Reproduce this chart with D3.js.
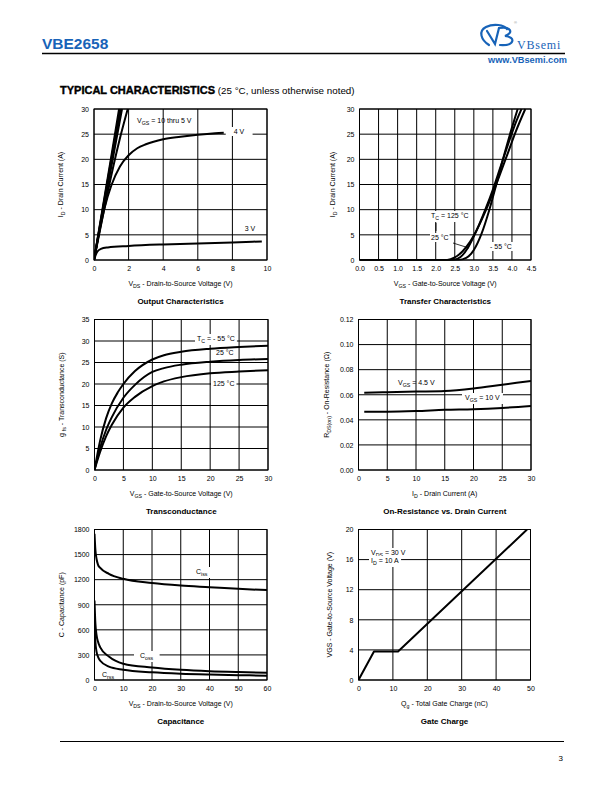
<!DOCTYPE html>
<html><head><meta charset="utf-8">
<script src="https://cdn.jsdelivr.net/npm/d3@7"></script>
<style>
html,body{margin:0;padding:0;background:#fff;}
svg{display:block;font-family:"Liberation Sans",Arial,Helvetica,sans-serif;}
</style></head>
<body>
<svg id="page" width="612" height="792"></svg>
<script>
// ---------------- DATA ----------------
// Output characteristics (VDS V, ID A)
const outVgs10 = [[0,0],[0.5,10.3],[1,20.6],[1.45,30]];
const outVgs8  = [[0,0],[0.5,10],[1,20],[1.5,30]];
const outVgs7  = [[0,0],[0.5,9.7],[1,19.3],[1.55,30]];
const outVgs6  = [[0,0],[0.5,9.3],[1,18.5],[1.62,30]];
const outVgs5  = [[0,0],[0.5,8.6],[1,16.8],[1.5,24.2],[1.95,30]];
const outVgs4  = [[0,0],[0.3,5.4],[0.6,10.2],[1,14.8],[1.5,18.6],[2,20.8],[2.5,22.2],[3,23],[4,24],[5,24.5],[6,24.9],[7,25.2],[7.5,25.3]];
const outVgs3  = [[0,0],[0.1,1],[0.2,1.7],[0.4,2.2],[0.8,2.5],[2,2.8],[4,3.1],[6,3.3],[8,3.5],[9.7,3.7]];
// Transfer characteristics (VGS V, ID A)
const trM55 = [[0,0],[2.6,0],[2.8,0.4],[3.0,2],[3.2,5.2],[3.4,9.8],[3.6,15.3],[3.8,21],[4.0,26.3],[4.15,30]];
const tr25  = [[0,0],[2.45,0],[2.65,0.6],[2.85,2.5],[3.05,5.5],[3.3,10],[3.5,14],[3.7,18.5],[3.9,23],[4.1,27.3],[4.25,30]];
const tr125 = [[0,0],[2.3,0],[2.5,0.5],[2.7,1.7],[2.9,3.6],[3.1,6.3],[3.3,9.6],[3.5,13.3],[3.7,17.3],[3.9,21.4],[4.1,25.5],[4.35,30]];
// Transconductance (VGS V, gfs S)
const gfsM55 = [[0,0],[1,7],[2,12],[3,15.5],[4,18],[5,20],[7,23],[10,25.7],[12,26.7],[15,27.5],[20,28.2],[25,28.6],[30,28.9]];
const gfs25  = [[0,0],[1,5.3],[2,9.3],[3,12.3],[5,16.8],[7,19.8],[10,22.8],[12,23.7],[15,24.5],[20,25.2],[25,25.6],[30,25.8]];
const gfs125 = [[0,0],[1,4.3],[2,7.8],[3,10.5],[5,14.5],[7,17],[10,19.5],[12,20.6],[15,21.6],[20,22.5],[25,22.9],[30,23.2]];
// On-resistance (ID A, RDS ohm)
const rds45 = [[1,0.0615],[5,0.062],[10,0.0625],[15,0.063],[20,0.065],[25,0.068],[30,0.071]];
const rds10 = [[1,0.0465],[5,0.0465],[10,0.047],[15,0.048],[20,0.0485],[25,0.0495],[30,0.051]];
// Capacitance (VDS V, pF)
const capCiss = [[0,1750],[0.3,1560],[0.7,1450],[1.2,1380],[2,1340],[5,1270],[10,1210],[20,1160],[30,1130],[40,1110],[50,1090],[60,1075]];
const capCoss = [[0,950],[0.3,680],[0.7,540],[1.2,460],[2,390],[5,280],[10,195],[20,150],[30,122],[40,105],[50,95],[60,88]];
const capCrss = [[0,700],[0.3,460],[0.7,340],[1.2,280],[2,230],[5,160],[10,123],[20,92],[30,75],[40,65],[50,58],[60,52]];
// Gate charge (Qg nC, VGS V)
const gateCharge = [[0,0],[4.5,3.8],[11.5,3.8],[49,20]];

// ticks
const ticksOutX = [0,2,4,6,8,10], ticksOutY = [0,5,10,15,20,25,30];
const ticksTrX = [0,0.5,1,1.5,2,2.5,3,3.5,4,4.5], ticksTrY = [0,5,10,15,20,25,30];
const ticksGfsX = [0,5,10,15,20,25,30], ticksGfsY = [0,5,10,15,20,25,30,35];
const ticksRdsX = [0,5,10,15,20,25,30], ticksRdsY = [0,0.02,0.04,0.06,0.08,0.10,0.12];
const ticksCapX = [0,10,20,30,40,50,60], ticksCapY = [0,300,600,900,1200,1500,1800];
const ticksQgX = [0,10,20,30,40,50], ticksQgY = [0,4,8,12,16,20];

// ---------------- DRAW ----------------
const svg = d3.select("#page");
const blue = "#1763b8";

// header
svg.append("text").attr("x",42).attr("y",49).attr("font-size",15.5).attr("font-weight","bold")
  .attr("fill",blue).text("VBE2658");
svg.append("line").attr("x1",42).attr("x2",565).attr("y1",53.5).attr("y2",53.5).attr("stroke","#000").attr("stroke-width",1.3);
// logo
const lg = svg.append("g").attr("fill","none").attr("stroke",blue).attr("stroke-width",2.2).attr("stroke-linecap","round");
lg.append("path").attr("d","M489,45 C481,40 478,31 486,27 C494,23 504,25 507,29");
lg.append("path").attr("d","M487,31 L495,44 L499,28");
lg.append("path").attr("d","M499,28 C511,26 514,33 505,36 C516,37 515,46 500,45");
svg.append("text").attr("x",514).attr("y",24).attr("font-size",4).attr("fill","#888").text("®");
svg.append("text").attr("x",517).attr("y",48.5).attr("font-family","'Liberation Serif',serif").attr("font-size",12)
  .attr("letter-spacing",0.8).attr("fill",blue).text("VBsemi");
svg.append("text").attr("x",567).attr("y",62.5).attr("text-anchor","end").attr("font-size",9).attr("font-weight","bold")
  .attr("fill",blue).attr("textLength",79).attr("lengthAdjust","spacingAndGlyphs").text("www.VBsemi.com");

// section heading
const hd = svg.append("text").attr("x",60).attr("y",93.5).attr("font-size",11);
hd.append("tspan").attr("font-weight",900).attr("stroke","#000").attr("stroke-width",0.4).text("TYPICAL CHARACTERISTICS");
hd.append("tspan").attr("font-size",9.8).text(" (25 °C, unless otherwise noted)");

// footer
svg.append("line").attr("x1",60).attr("x2",564).attr("y1",741.5).attr("y2",741.5).attr("stroke","#000").attr("stroke-width",1.2);
svg.append("text").attr("x",563).attr("y",761).attr("text-anchor","end").attr("font-size",8).text("3");

function addRich(sel, parts, fs){
  // parts: [text, "sub"|null]
  let shifted = false;
  parts.forEach(p=>{
    const t = sel.append("tspan").text(p[0]);
    if(p[1]==="sub"){
      t.attr("font-size",(fs*0.75).toFixed(2)).attr("dy", shifted?0:2);
      shifted = true;
    } else {
      if(shifted){ t.attr("dy",-2); shifted=false; }
    }
  });
  return sel;
}

let clipId = 0;
function chart(o){
  const g = svg.append("g");
  const x = d3.scaleLinear().domain(o.xd).range([o.left,o.right]);
  const y = d3.scaleLinear().domain(o.yd).range([o.bottom,o.top]);
  // grid
  g.selectAll(".gx").data(o.xt).join("line").attr("x1",d=>x(d)).attr("x2",d=>x(d))
    .attr("y1",o.top).attr("y2",o.bottom).attr("stroke","#000").attr("stroke-width",1);
  g.selectAll(".gy").data(o.yt).join("line").attr("y1",d=>y(d)).attr("y2",d=>y(d))
    .attr("x1",o.left).attr("x2",o.right).attr("stroke","#000").attr("stroke-width",1);
  // axes labels via d3 axes (no tick lines)
  const ax = g.append("g").attr("transform",`translate(0,${o.bottom})`)
    .call(d3.axisBottom(x).tickValues(o.xt).tickFormat(o.xf||d3.format("d")).tickSize(0).tickPadding(6));
  const ay = g.append("g").attr("transform",`translate(${o.left},0)`)
    .call(d3.axisLeft(y).tickValues(o.yt).tickFormat(o.yf||d3.format("d")).tickSize(0).tickPadding(5));
  [ax,ay].forEach(a=>{a.select(".domain").remove(); a.selectAll("text").attr("font-size",7)
    .attr("font-family","'Liberation Sans',Arial,sans-serif").attr("fill","#000");});
  // clip
  const id = "clip"+(clipId++);
  g.append("clipPath").attr("id",id).append("rect").attr("x",o.left).attr("y",o.top-0.5)
    .attr("width",o.right-o.left).attr("height",o.bottom-o.top+1);
  const line = d3.line().x(d=>x(d[0])).y(d=>y(d[1])).curve(o.curve||d3.curveMonotoneX);
  const lg2 = g.append("g").attr("clip-path",`url(#${id})`);
  o.series.forEach(s=>{
    lg2.append("path").datum(s).attr("d",line).attr("fill","none").attr("stroke","#000")
      .attr("stroke-width",o.lw||2).attr("stroke-linejoin","round");
  });
  // frame
  g.append("rect").attr("x",o.left).attr("y",o.top).attr("width",o.right-o.left).attr("height",o.bottom-o.top)
    .attr("fill","none").attr("stroke","#000").attr("stroke-width",1);
  // x title
  const xt = g.append("text").attr("x",(o.left+o.right)/2).attr("y",o.bottom+26).attr("text-anchor","middle").attr("font-size",7);
  addRich(xt,o.xTitle,7);
  // y title
  const yt = g.append("text").attr("transform",`translate(${o.left-o.ytOff},${(o.top+o.bottom)/2}) rotate(-90)`)
    .attr("text-anchor","middle").attr("font-size",7);
  addRich(yt,o.yTitle,7);
  // chart title
  g.append("text").attr("x",(o.left+o.right)/2).attr("y",o.bottom+44).attr("text-anchor","middle")
    .attr("font-size",8).attr("font-weight","bold").text(o.title);
  // labels
  (o.labels||[]).forEach(L=>{
    const t = g.append("text").attr("x",L.x).attr("y",L.y).attr("font-size",7).attr("text-anchor",L.anchor||"start");
    addRich(t,L.parts,7);
    if(L.bg){
      const b = t.node().getBBox();
      g.insert("rect", () => t.node()).attr("x",b.x-(L.padX||3)).attr("y",b.y-1).attr("width",b.width+2*(L.padX||3))
        .attr("height",b.height+2).attr("fill","#fff");
    }
  });
  (o.leaders||[]).forEach(l=>{
    g.append("line").attr("x1",l[0]).attr("y1",l[1]).attr("x2",l[2]).attr("y2",l[3]).attr("stroke","#000").attr("stroke-width",0.8);
  });
  return {x,y,g};
}

// 1. Output characteristics
chart({left:94,right:267,top:109,bottom:260,xd:[0,10],yd:[0,30],xt:ticksOutX,yt:ticksOutY,
  series:[outVgs10,outVgs8,outVgs7,outVgs6,outVgs5,outVgs4,outVgs3],
  xTitle:[["V"],["DS","sub"],["  -  Drain-to-Source Voltage (V)"]],
  yTitle:[["I"],["D","sub"],[" - Drain Current (A)"]], ytOff:31,
  title:"Output Characteristics",
  labels:[
    {x:137,y:123,parts:[["V"],["GS","sub"],[" = 10 thru 5 V"]]},
    {x:239,y:134,parts:[["4 V"]],anchor:"middle",bg:true,padX:8},
    {x:250,y:231,parts:[["3 V"]],anchor:"middle",bg:true,padX:7}
  ]});

// 2. Transfer characteristics
chart({left:359.5,right:531,top:109,bottom:260,xd:[0,4.5],yd:[0,30],xt:ticksTrX,yt:ticksTrY,xf:d3.format(".1f"),
  series:[tr125,tr25,trM55],
  xTitle:[["V"],["GS","sub"],["  - Gate-to-Source Voltage (V)"]],
  yTitle:[["I"],["D","sub"],["  - Drain Current (A)"]], ytOff:25,
  title:"Transfer Characteristics",
  labels:[
    {x:431,y:218,parts:[["T"],["C","sub"],[" = 125 °C"]],bg:true,padX:1},
    {x:431,y:240,parts:[["25 °C"]],bg:true,padX:1},
    {x:490,y:249,parts:[["- 55 °C"]],bg:true,padX:3}
  ],
  leaders:[[436,223,436,231],[453,243,469,248]]});

// 3. Transconductance
chart({left:94.5,right:268,top:319.5,bottom:470,xd:[0,30],yd:[0,35],xt:ticksGfsX,yt:ticksGfsY,
  series:[gfsM55,gfs25,gfs125],
  xTitle:[["V"],["GS","sub"],[" - Gate-to-Source Voltage (V)"]],
  yTitle:[["g "],["fs","sub"],[" - Transconductance (S)"]], ytOff:31,
  title:"Transconductance",
  labels:[
    {x:197,y:341,parts:[["T"],["C","sub"],[" = - 55 °C"]],bg:true,padX:2},
    {x:216,y:355,parts:[["25 °C"]],bg:false},
    {x:213,y:386,parts:[["125 °C"]],bg:true,padX:2}
  ]});

// 4. On-resistance
chart({left:358.5,right:531,top:319.5,bottom:470,xd:[0,30],yd:[0,0.12],xt:ticksRdsX,yt:ticksRdsY,yf:d3.format(".2f"),
  series:[rds45,rds10],
  xTitle:[["I"],["D","sub"],[" - Drain Current (A)"]],
  yTitle:[["R"],["DS(on)","sub"],[" - On-Resistance (Ω)"]], ytOff:30,
  title:"On-Resistance vs. Drain Current",
  labels:[
    {x:398,y:385,parts:[["V"],["GS","sub"],[" = 4.5 V"]]},
    {x:465,y:400,parts:[["V"],["GS","sub"],[" = 10 V"]],bg:true,padX:3}
  ]});

// 5. Capacitance
chart({left:94.5,right:267,top:529.5,bottom:680,xd:[0,60],yd:[0,1800],xt:ticksCapX,yt:ticksCapY,
  series:[capCiss,capCoss,capCrss],
  xTitle:[["V"],["DS","sub"],["  -  Drain-to-Source Voltage (V)"]],
  yTitle:[["C  -  Capacitance (pF)"]], ytOff:31,
  title:"Capacitance",
  labels:[
    {x:196,y:574,parts:[["C"],["iss","sub"]],bg:true,padX:4},
    {x:140,y:658,parts:[["C"],["oss","sub"]],bg:true,padX:6},
    {x:102,y:677,parts:[["C"],["rss","sub"]]}
  ]});

// 6. Gate charge
chart({left:358.5,right:530.5,top:529.5,bottom:680,xd:[0,50],yd:[0,20],xt:ticksQgX,yt:ticksQgY,curve:d3.curveLinear,
  series:[gateCharge],
  xTitle:[["Q"],["g","sub"],["  -  Total Gate Charge (nC)"]],
  yTitle:[["VGS  -  Gate-to-Source Voltage (V)"]], ytOff:27,
  title:"Gate Charge",
  labels:[
    {x:371,y:555,parts:[["V"],["DS","sub"],[" = 30 V"]],bg:true,padX:2},
    {x:371,y:563,parts:[["I"],["D","sub"],[" = 10 A"]],bg:true,padX:2}
  ]});
</script>
</body></html>
